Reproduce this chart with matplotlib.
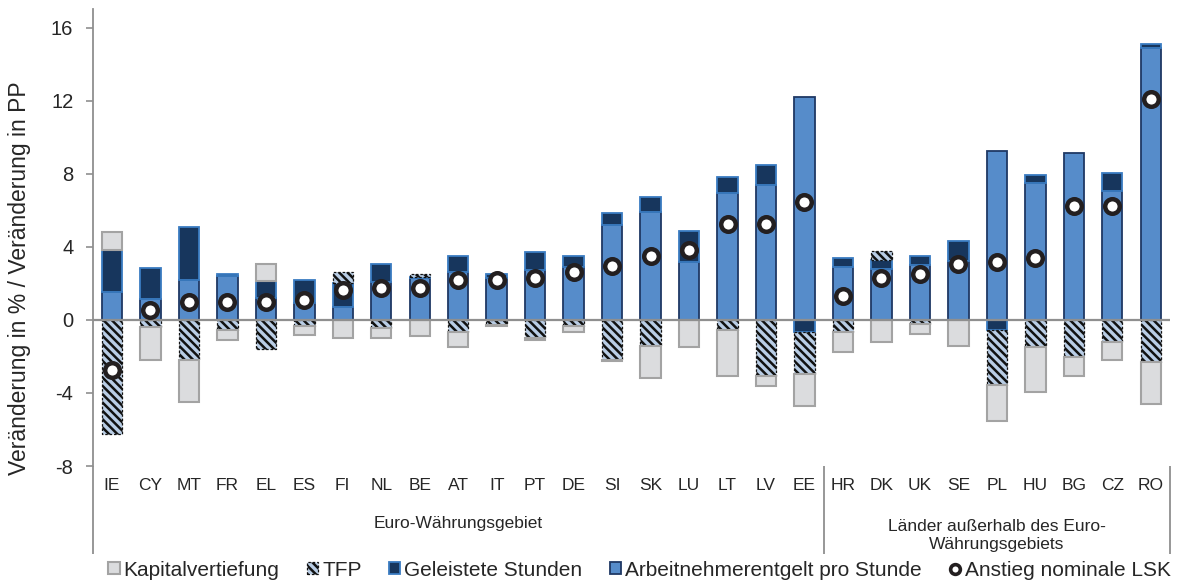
import matplotlib
matplotlib.use('Agg')
import matplotlib.pyplot as plt
from matplotlib.patches import Patch
from matplotlib.lines import Line2D
import numpy as np

plt.rcParams['font.family'] = ['Liberation Sans', 'DejaVu Sans']
plt.rcParams['hatch.linewidth'] = 1.8
plt.rcParams['axes.unicode_minus'] = False

countries = ['IE', 'CY', 'MT', 'FR', 'EL', 'ES', 'FI', 'NL', 'BE', 'AT', 'IT', 'PT', 'DE', 'SI',
             'SK', 'LU', 'LT', 'LV', 'EE', 'HR', 'DK', 'UK', 'SE', 'PL', 'HU', 'BG', 'CZ', 'RO']
group_labels = ['Euro-Währungsgebiet', 'Länder außerhalb des Euro-\nWährungsgebiets']
group_sizes = [19, 9]

compensation = [1.50, 1.15, 2.20, 2.40, 1.20, 0.91, 0.73, 2.05, 2.30, 2.60, 2.31, 2.73, 2.87, 5.19,
                5.93, 3.15, 6.92, 7.38, 12.20, 2.91, 2.79, 3.02, 3.24, 9.25, 7.47, 9.14, 7.07, 14.90]
hours = [2.33, 1.67, 2.91, 0.11, 0.91, 1.27, 1.27, 1.01, 0.05, 0.88, 0.20, 0.96, 0.61, 0.66,
         0.79, 1.73, 0.91, 1.09, -0.68, 0.46, 0.49, 0.46, 1.09, -0.58, 0.47, 0.00, 0.96, 0.21]
tfp = [-6.23, -0.40, -2.19, -0.53, -1.58, -0.33, 0.60, -0.44, 0.16, -0.64, -0.27, -0.98, -0.31, -2.19,
       -1.44, 0.00, -0.53, -3.08, -2.27, -0.68, 0.51, -0.22, 0.00, -3.01, -1.50, -2.04, -1.19, -2.28]
capital = [0.97, -1.82, -2.31, -0.60, 0.95, -0.49, -1.00, -0.54, -0.91, -0.82, -0.05, -0.15, -0.37, -0.05,
           -1.75, -1.46, -2.55, -0.56, -1.75, -1.09, -1.22, -0.55, -1.44, -1.97, -2.45, -1.04, -1.00, -2.31]
ulc = [-2.72, 0.55, 1.00, 1.00, 1.00, 1.11, 1.64, 1.73, 1.75, 2.18, 2.18, 2.30, 2.64, 2.95,
       3.51, 3.83, 5.22, 5.22, 6.43, 1.31, 2.30, 2.51, 3.06, 3.19, 3.39, 6.21, 6.21, 12.08]

legend_labels = ['Kapitalvertiefung', 'TFP', 'Geleistete Stunden',
                 'Arbeitnehmerentgelt pro Stunde', 'Anstieg nominale LSK']

text_color = '#262626'
axis_gray = '#8f8f8f'

styles = {
    'comp': dict(facecolor='#568cca', edgecolor='#1f3864', linewidth=1.3),
    'hours': dict(facecolor='#17365d', edgecolor='#3a7cc2', linewidth=1.3),
    'tfp': dict(facecolor='#b9cde5', edgecolor='#111111', linewidth=0.9, hatch='\\\\\\\\',
                linestyle=(0, (2, 1.5))),
    'cap': dict(facecolor='#dbdcde', edgecolor='#a3a3a3', linewidth=1.5),
}

fig = plt.figure(figsize=(11.84, 5.83), dpi=100)
ax = fig.add_axes([92.7 / 1184, 1 - 466 / 583, (1170 - 92.7) / 1184, (466 - 9.3) / 583])

x = np.arange(len(countries))
width = 0.53
pos = np.zeros(len(x))
neg = np.zeros(len(x))
for vals, key in [(compensation, 'comp'), (hours, 'hours'), (tfp, 'tfp'), (capital, 'cap')]:
    v = np.array(vals, dtype=float)
    bottom = np.where(v >= 0, pos, neg)
    m = v != 0
    ax.bar(x[m], v[m], width, bottom=bottom[m], zorder=2, **styles[key])
    pos += np.where(v > 0, v, 0)
    neg += np.where(v < 0, v, 0)

ax.axhline(0, color=axis_gray, linewidth=1.6, zorder=3)
ax.plot(x, ulc, linestyle='none', marker='o', markersize=10.5, markerfacecolor='white',
        markeredgecolor='#231f20', markeredgewidth=3.2, zorder=5)

ax.set_xlim(-0.5, len(countries) - 0.5)
ax.set_ylim(-8, 17)
ax.set_yticks([-8, -4, 0, 4, 8, 12, 16])
ax.set_xticks(x)
ax.set_xticklabels(countries)
ax.tick_params(axis='y', direction='out', length=5, width=1.2, color=axis_gray, pad=9,
               labelsize=14.5, labelcolor=text_color)
ax.tick_params(axis='x', length=0, pad=9, labelsize=12.5, labelcolor=text_color)
for s in ['top', 'right', 'bottom']:
    ax.spines[s].set_visible(False)
ax.spines['left'].set_color(axis_gray)
ax.spines['left'].set_linewidth(1.3)

trans = ax.get_xaxis_transform()
edges = [-0.5]
for g in group_sizes:
    edges.append(edges[-1] + g)
for i, e in enumerate(edges):
    ax.plot([e, e], [0, -0.193], transform=trans, color=axis_gray, linewidth=1.3,
            clip_on=False, solid_capstyle='butt')

centers = [(edges[i] + edges[i + 1]) / 2 for i in range(len(group_sizes))]
ax.text(centers[0], -0.125, group_labels[0], transform=trans, ha='center', va='center',
        fontsize=12.5, color=text_color)
ax.text(centers[1], -0.153, group_labels[1], transform=trans, ha='center', va='center',
        fontsize=12.5, color=text_color, multialignment='center', linespacing=1.25)

fig.text(20 / 1184, 1 - 278 / 583, 'Veränderung in % / Veränderung in PP', rotation=90,
         ha='center', va='center', fontsize=16.5, color=text_color)

handles = [
    Patch(**styles['cap']),
    Patch(**styles['tfp']),
    Patch(**styles['hours']),
    Patch(**styles['comp']),
    Line2D([], [], linestyle='none', marker='o', markersize=7, markerfacecolor='white',
           markeredgecolor='#231f20', markeredgewidth=2.6),
]
leg = fig.legend(handles, legend_labels, loc='center', bbox_to_anchor=(0.540, 1 - 570 / 583),
                 ncol=5, frameon=False, fontsize=15, handlelength=0.55, handleheight=0.55,
                 handletextpad=0.2, columnspacing=1.3, borderpad=0, borderaxespad=0)
for t in leg.get_texts():
    t.set_color(text_color)

fig.savefig('out.png', dpi=100)
